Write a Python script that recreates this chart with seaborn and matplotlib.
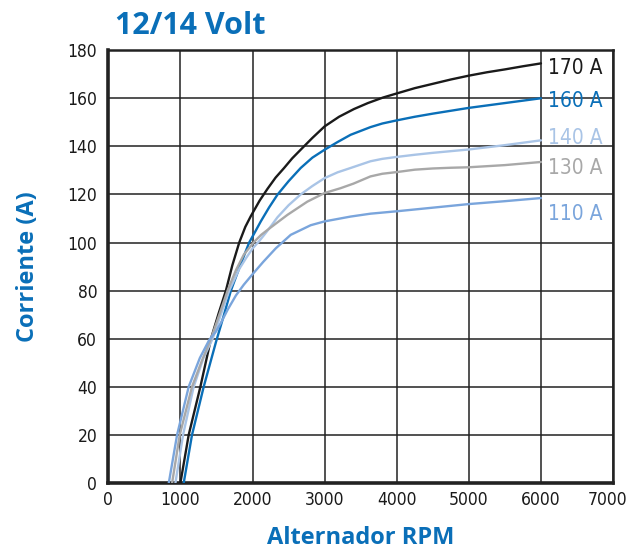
import pandas as pd
import seaborn as sns
import matplotlib.pyplot as plt
from matplotlib.transforms import ScaledTranslation

# Curves (RPM, amps)
rpm_170 = [1000, 1115, 1277, 1424, 1530, 1631, 1720, 1816, 1900, 1977, 2100, 2207, 2320, 2438, 2550, 2668,
           2830, 3000, 3200, 3406, 3600, 3810, 4000, 4250, 4500, 4750, 5000, 5250, 5500, 5750, 6000]
amp_170 = [0, 20, 40, 60, 70.5, 80, 90.5, 100, 106.5, 111, 117.5, 122.3, 127, 131, 135, 138.6,
           143.5, 148.3, 152.3, 155.5, 158, 160.3, 162, 164.2, 166, 167.8, 169.4, 170.8, 172, 173.3, 174.5]

rpm_160 = [1046, 1161, 1323, 1493, 1600, 1700, 1830, 1954, 2046, 2115, 2230, 2346, 2500, 2668, 2830, 3000,
           3180, 3360, 3636, 3800, 4000, 4250, 4500, 4750, 5000, 5250, 5500, 5750, 6000]
amp_160 = [0, 20, 40, 58.6, 69.5, 80, 90.5, 100, 105, 108.8, 114.6, 119.9, 125.5, 131, 135.3, 138.6,
           141.8, 144.8, 148, 149.5, 150.8, 152.3, 153.6, 154.8, 156, 157, 158, 159, 160]

rpm_140 = [931, 1037, 1184, 1320, 1447, 1560, 1677, 1816, 1910, 2000, 2090, 2184, 2260, 2346, 2500, 2668,
           2830, 3000, 3180, 3360, 3636, 3800, 4000, 4250, 4500, 4750, 5000, 5500, 6000]
amp_140 = [0, 20, 40, 52, 60, 70, 80, 89, 93.5, 97.5, 100.5, 104, 107, 110.5, 115.5, 120,
           123.5, 126.8, 129.2, 131, 133.8, 134.8, 135.6, 136.5, 137.3, 138, 138.7, 140.5, 142.5]

rpm_130 = [885, 991, 1161, 1300, 1424, 1540, 1654, 1770, 1880, 2023, 2120, 2254, 2484, 2760, 3000, 3221,
           3400, 3636, 3800, 4000, 4250, 4500, 4750, 5000, 5500, 6000]
amp_130 = [0, 20, 40, 51, 60, 70, 80, 88.5, 95, 100.3, 103.2, 106.3, 111.5, 117, 120.6, 122.6,
           124.5, 127.5, 128.6, 129.3, 130.3, 130.8, 131.1, 131.3, 132.2, 133.5]

rpm_110 = [839, 954, 1115, 1270, 1400, 1493, 1560, 1654, 1770, 1880, 2000, 2150, 2323, 2530, 2807, 3000,
           3360, 3636, 4000, 4500, 5000, 5500, 6000]
amp_110 = [0, 20, 40, 52, 59.5, 63, 66.5, 72, 78, 82.5, 86.8, 92, 97.6, 103.2, 107.2, 108.8,
           110.8, 112, 113, 114.5, 116, 117.2, 118.5]

labels = ['170 A', '160 A', '140 A', '130 A', '110 A']
label_y = [172.5, 159, 143.5, 131, 112]
colors = ['#1a1a1a', '#0a6fb8', '#a9c4e6', '#a8a8a8', '#7aa5dc']

rows = []
for lab, xs, ys in zip(labels,
                       [rpm_170, rpm_160, rpm_140, rpm_130, rpm_110],
                       [amp_170, amp_160, amp_140, amp_130, amp_110]):
    for x, y in zip(xs, ys):
        rows.append({'RPM': x, 'Amps': y, 'Output': lab})
df = pd.DataFrame(rows)

sns.set_style('white')
plt.rcParams['font.family'] = ['DejaVu Sans']
plt.rcParams['font.stretch'] = 'condensed'

fig = plt.figure(figsize=(6.31, 5.5), dpi=100)
ax = fig.add_axes([0.1716, 0.1218, 0.80, 0.787])

sns.lineplot(data=df, x='RPM', y='Amps', hue='Output', hue_order=labels,
             palette=dict(zip(labels, colors)), estimator=None, sort=False,
             linewidth=1.7, legend=False, ax=ax, zorder=3)

ax.set_xlim(0, 7000)
ax.set_ylim(0, 180)
ax.set_xticks(range(0, 7001, 1000))
ax.set_yticks(range(0, 181, 20))
ax.grid(True, color='#222222', linewidth=1.1)
ax.set_axisbelow(True)

for side, lw in [('left', 2.6), ('bottom', 2.6), ('top', 1.8), ('right', 1.8)]:
    ax.spines[side].set_visible(True)
    ax.spines[side].set_color('#222222')
    ax.spines[side].set_linewidth(lw)

ax.tick_params(axis='y', length=5, width=1.2, color='#222222', labelsize=12.5, pad=3)
ax.tick_params(axis='x', length=0, labelsize=12.5, pad=6)
for t in ax.get_xticklabels() + ax.get_yticklabels():
    t.set_color('#1a1a1a')

# nudge the last x tick label so it stays inside the figure
last = ax.get_xticklabels()[-1]
last.set_transform(last.get_transform() + ScaledTranslation(-4 / 72, 0, fig.dpi_scale_trans))

for lab, y, c in zip(labels, label_y, colors):
    ax.text(6100, y, lab, color=c, fontsize=15, va='center', ha='left', clip_on=False)

blue = '#0a6fb8'
ax.set_xlabel('Alternador RPM', color=blue, fontsize=17, fontweight='bold',
              family=['Open Sans', 'DejaVu Sans'], fontstretch='normal', labelpad=12)
ax.set_ylabel('Corriente (A)', color=blue, fontsize=17, fontweight='bold',
              family=['Open Sans', 'DejaVu Sans'], fontstretch='normal', labelpad=20)
fig.text(0.183, 0.953, '12/14 Volt', color=blue, fontsize=22, fontweight='bold',
         family=['Open Sans', 'DejaVu Sans'], fontstretch='normal', va='center', ha='left')

fig.savefig('out.png', dpi=100)
